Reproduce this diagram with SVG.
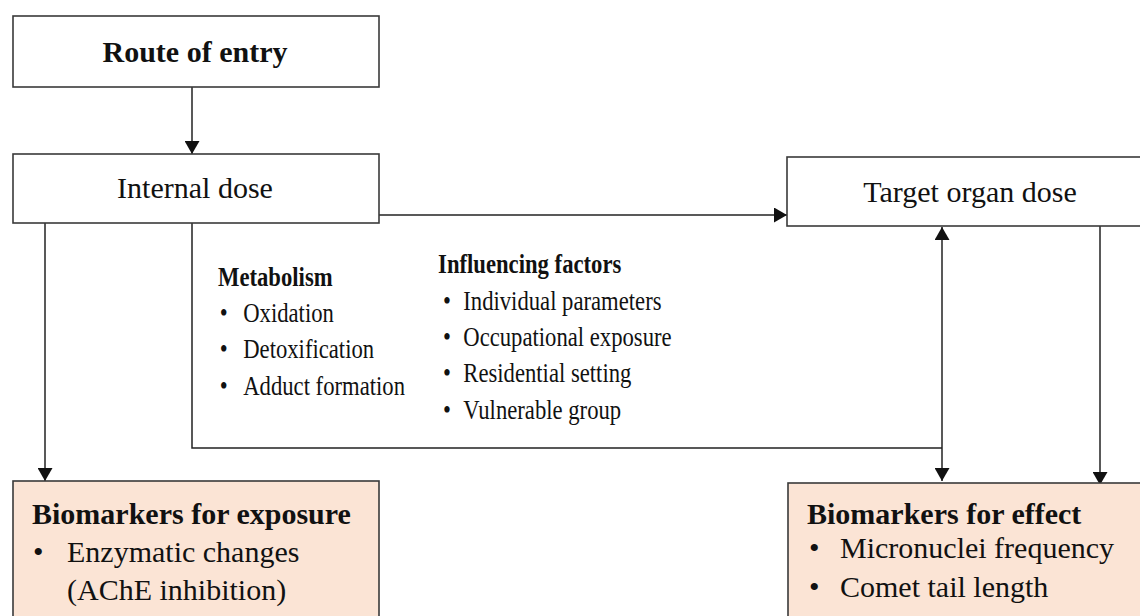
<svg xmlns="http://www.w3.org/2000/svg" width="1140" height="616" viewBox="0 0 1140 616">
  <defs>
    <marker id="arrow" markerUnits="userSpaceOnUse" markerWidth="14" markerHeight="15" refX="13" refY="7.5" orient="auto">
      <path d="M0,0 L13,7.5 L0,15 z" fill="#111"/>
    </marker>
    <style>
      .box { fill: #ffffff; stroke: #3a3a3a; stroke-width: 1.6; }
      .bio { fill: #fbe4d5; stroke: #3a3a3a; stroke-width: 1.6; }
      .t { font-family: "Liberation Serif", "Times New Roman", serif; font-size: 30px; fill: #111; }
      .b { font-weight: bold; }
      .m { font-family: "Liberation Serif", "Times New Roman", serif; font-size: 27px; fill: #111; }
      .conn { fill: none; stroke: #222; stroke-width: 1.5; }
    </style>
  </defs>
  <rect width="1140" height="616" fill="#ffffff"/>

  <g id="connectors">
    <line class="conn" x1="192" y1="87" x2="192" y2="154" marker-end="url(#arrow)"/>
    <line class="conn" x1="379" y1="215" x2="787" y2="215" marker-end="url(#arrow)"/>
    <line class="conn" x1="45" y1="223" x2="45" y2="481" marker-end="url(#arrow)"/>
    <polyline class="conn" points="192,223 192,448 942,448"/>
    <line class="conn" x1="942" y1="448" x2="942" y2="227" marker-end="url(#arrow)"/>
    <line class="conn" x1="942" y1="448" x2="942" y2="481" marker-end="url(#arrow)"/>
    <line class="conn" x1="1100" y1="226" x2="1100" y2="485" marker-end="url(#arrow)"/>
  </g>

  <g id="route-of-entry">
    <rect class="box" x="13" y="16" width="366" height="71"/>
    <text class="t b" x="195" y="62" text-anchor="middle">Route of entry</text>
  </g>

  <g id="internal-dose">
    <rect class="box" x="13" y="154" width="366" height="69"/>
    <text class="t" x="195" y="198" text-anchor="middle">Internal dose</text>
  </g>

  <g id="target-organ-dose">
    <rect class="box" x="787" y="157" width="365" height="69"/>
    <text class="t" x="970" y="202" text-anchor="middle">Target organ dose</text>
  </g>

  <g id="metabolism-factors" transform="translate(218 0) scale(0.84 1)">
    <text class="m b" x="0" y="286">Metabolism</text>
    <text class="m" x="2" y="322">•</text>
    <text class="m" x="30" y="322">Oxidation</text>
    <text class="m" x="2" y="358">•</text>
    <text class="m" x="30" y="358">Detoxification</text>
    <text class="m" x="2" y="395">•</text>
    <text class="m" x="30" y="395">Adduct formation</text>

    <text class="m b" x="262" y="273">Influencing factors</text>
    <text class="m" x="268" y="310">•</text>
    <text class="m" x="292" y="310">Individual parameters</text>
    <text class="m" x="268" y="346">•</text>
    <text class="m" x="292" y="346">Occupational exposure</text>
    <text class="m" x="268" y="382">•</text>
    <text class="m" x="292" y="382">Residential setting</text>
    <text class="m" x="268" y="419">•</text>
    <text class="m" x="292" y="419">Vulnerable group</text>
  </g>

  <g id="biomarkers-exposure">
    <rect class="bio" x="13" y="481" width="366" height="145"/>
    <text class="t b" x="32" y="524">Biomarkers for exposure</text>
    <text class="t" x="33" y="562">•</text>
    <text class="t" x="67" y="562">Enzymatic changes</text>
    <text class="t" x="67" y="600">(AChE inhibition)</text>
  </g>

  <g id="biomarkers-effect">
    <rect class="bio" x="788" y="483" width="365" height="145"/>
    <text class="t b" x="807" y="524">Biomarkers for effect</text>
    <text class="t" x="809" y="558">•</text>
    <text class="t" x="840" y="558">Micronuclei frequency</text>
    <text class="t" x="809" y="597">•</text>
    <text class="t" x="840" y="597">Comet tail length</text>
  </g>
</svg>
